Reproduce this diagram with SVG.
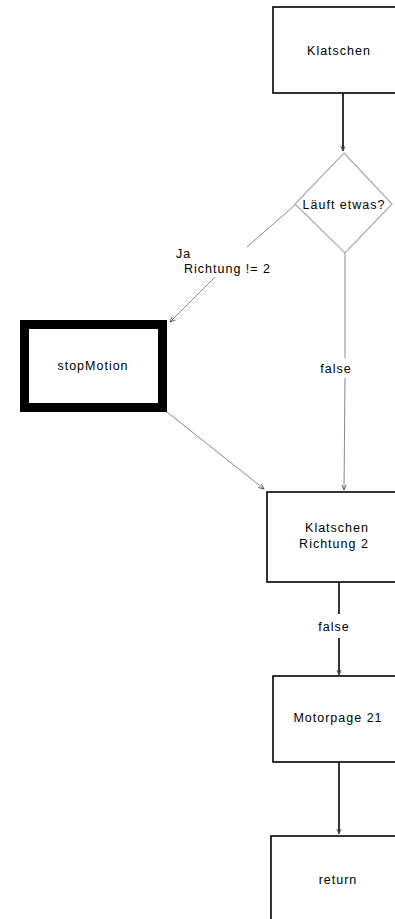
<svg xmlns="http://www.w3.org/2000/svg" width="395" height="919" viewBox="0 0 395 919">
  <style>
    .box { fill: #fff; stroke: #000; stroke-width: 1.6; }
    .thick { fill: #fff; stroke: #000; stroke-width: 9; }
    .dia { fill: #fff; stroke: #aaa; stroke-width: 1.2; }
    .lbl { font-family: "Liberation Sans", Arial, sans-serif; font-size: 12.5px; fill: #000; letter-spacing: 1px; }
    .mid { text-anchor: middle; }
    .dark { fill: none; stroke: #000; stroke-width: 1.6; }
    .grey { fill: none; stroke: #888; stroke-width: 1; }
  </style>
  <defs>
    <marker id="arrow" viewBox="0 0 10 10" refX="9" refY="5" markerWidth="6" markerHeight="6" orient="auto" markerUnits="userSpaceOnUse">
      <path d="M0,1 L9,5 L0,9" fill="none" stroke="#555" stroke-width="1.5"/>
    </marker>
  </defs>
  <rect width="395" height="919" fill="#fff"/>

  <g id="connectors">
    <line class="dark" x1="343" y1="93" x2="343" y2="151" marker-end="url(#arrow)"/>
    <polyline class="grey" points="295,205 247,247"/>
    <line class="grey" x1="215" y1="277" x2="170" y2="322" marker-end="url(#arrow)"/>
    <line class="grey" x1="345" y1="253" x2="345" y2="358"/>
    <line class="grey" x1="345" y1="378" x2="344" y2="490" marker-end="url(#arrow)"/>
    <line class="grey" x1="167" y1="412" x2="264" y2="489" marker-end="url(#arrow)"/>
    <line class="dark" x1="339" y1="582" x2="339" y2="614"/>
    <line class="dark" x1="339" y1="638" x2="339" y2="675" marker-end="url(#arrow)"/>
    <line class="dark" x1="339" y1="762" x2="339" y2="834" marker-end="url(#arrow)"/>
    <text class="lbl" x="176" y="258">Ja</text>
    <text class="lbl" x="184" y="273">Richtung != 2</text>
    <text class="lbl mid" x="336" y="373">false</text>
    <text class="lbl mid" x="334" y="631">false</text>
  </g>

  <g id="klatschen">
    <rect class="box" x="273" y="7" width="140" height="86"/>
    <text class="lbl mid" x="339" y="55">Klatschen</text>
  </g>

  <g id="laeuft">
    <polygon class="dia" points="344,153 392,204 345,253 295,204"/>
    <text class="lbl mid" x="344" y="209">Läuft etwas?</text>
  </g>

  <g id="stopMotion">
    <rect class="thick" x="24.5" y="324.5" width="138" height="83"/>
    <text class="lbl mid" x="93" y="370">stopMotion</text>
  </g>

  <g id="klatschenRichtung">
    <rect class="box" x="267" y="492" width="146" height="90"/>
    <text class="lbl mid" x="337" y="532">Klatschen</text>
    <text class="lbl mid" x="334" y="548">Richtung 2</text>
  </g>

  <g id="motorpage">
    <rect class="box" x="273" y="676" width="140" height="86"/>
    <text class="lbl mid" x="338" y="722">Motorpage 21</text>
  </g>

  <g id="return">
    <rect class="box" x="271" y="836" width="140" height="100"/>
    <text class="lbl mid" x="338" y="884">return</text>
  </g>
</svg>
